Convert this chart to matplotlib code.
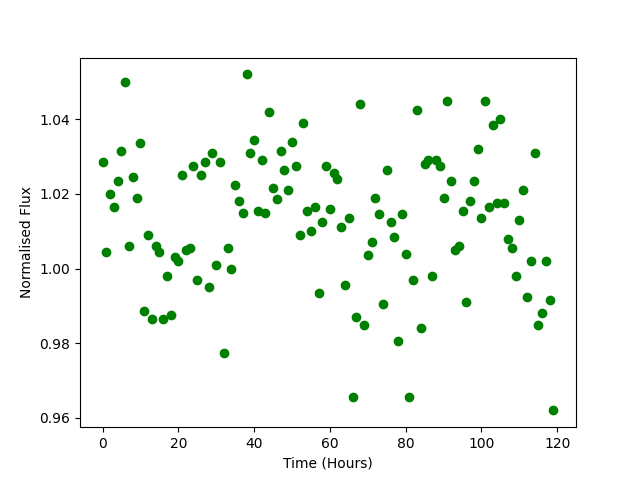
import matplotlib
matplotlib.use("Agg")
import matplotlib.pyplot as plt
import numpy as np

time_hours = np.arange(120)
flux = [
    1.0285, 1.0045, 1.0200, 1.0165, 1.0235, 1.0315, 1.0500, 1.0060, 1.0245, 1.0190,
    1.0335, 0.9885, 1.0090, 0.9865, 1.0060, 1.0045, 0.9865, 0.9980, 0.9875, 1.0030,
    1.0020, 1.0250, 1.0050, 1.0055, 1.0275, 0.9970, 1.0250, 1.0285, 0.9950, 1.0310,
    1.0010, 1.0285, 0.9775, 1.0055, 1.0000, 1.0225, 1.0180, 1.0150, 1.0520, 1.0310,
    1.0345, 1.0155, 1.0290, 1.0150, 1.0420, 1.0215, 1.0185, 1.0315, 1.0265, 1.0210,
    1.0340, 1.0275, 1.0090, 1.0390, 1.0155, 1.0100, 1.0165, 0.9935, 1.0125, 1.0275,
    1.0160, 1.0255, 1.0240, 1.0110, 0.9955, 1.0135, 0.9655, 0.9870, 1.0440, 0.9850,
    1.0035, 1.0070, 1.0190, 1.0145, 0.9905, 1.0265, 1.0125, 1.0085, 0.9805, 1.0145,
    1.0040, 0.9655, 0.9970, 1.0425, 0.9840, 1.0280, 1.0290, 0.9980, 1.0290, 1.0275,
    1.0190, 1.0450, 1.0235, 1.0050, 1.0060, 1.0155, 0.9910, 1.0180, 1.0235, 1.0320,
    1.0135, 1.0450, 1.0165, 1.0385, 1.0175, 1.0400, 1.0175, 1.0080, 1.0055, 0.9980,
    1.0130, 1.0210, 0.9925, 1.0020, 1.0310, 0.9850, 0.9880, 1.0020, 0.9915, 0.9620,
]

fig, ax = plt.subplots(figsize=(6.4, 4.8), dpi=100)
ax.plot(time_hours, flux, 'go')
ax.set_xlabel('Time (Hours)')
ax.set_ylabel('Normalised Flux')
fig.savefig('out.png')
